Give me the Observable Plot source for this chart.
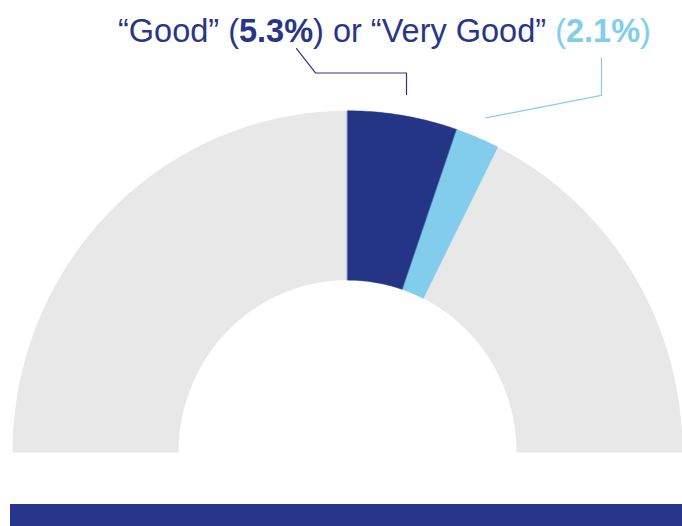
<!DOCTYPE html>
<html>
<head>
<meta charset="utf-8">
<script src="https://cdn.jsdelivr.net/npm/d3@7"></script>
<script src="https://cdn.jsdelivr.net/npm/@observablehq/plot@0.6"></script>
<style>
  html, body { margin: 0; padding: 0; background: #fff; }
  #wrap { position: relative; width: 682px; height: 526px; overflow: hidden; }
  #title { position: absolute; left: 118px; top: 13px;
           font-family: "Liberation Sans", Arial, Helvetica, sans-serif; font-size: 32.5px; line-height: 36px; color: #283689; white-space: nowrap; }
  #title b { font-weight: bold; }
  #bar { position: absolute; left: 10px; right: 0; top: 504px; height: 22px; background: #27358a; }
  svg { display: block; }
</style>
</head>
<body>
<div id="wrap">
  <div id="chart"></div>
  <div id="title"></div>
  <div id="bar"></div>
</div>
<script>
// ---- data ----
const categories = ["Good", "Very Good"];
const shares = [5.3, 2.1];              // percent of respondents
const segColors = ["#233584", "#82cdec"];
const labelColors = ["#283689", "#82cdec"];
const gaugeRange = [-90, 90];           // background half-ring, degrees
const gaugeColor = "#e8e8e8";

// label anchors (where leader lines meet the title text), in chart units
const labelAnchors = [[-51, 396], [254, 387]];

// ---- geometry helpers ----
const R_OUT = 335, R_IN = 169, R_LEAD = 356;
const rad = d => d * Math.PI / 180;
function ring(a0, a1, key) {
  const n = Math.max(8, Math.ceil(Math.abs(a1 - a0) * 2));
  const pts = [];
  for (let i = 0; i <= n; i++) { const a = a0 + (a1 - a0) * i / n; pts.push({key, x: R_OUT * Math.sin(rad(a)), y: R_OUT * Math.cos(rad(a))}); }
  for (let i = n; i >= 0; i--) { const a = a0 + (a1 - a0) * i / n; pts.push({key, x: R_IN * Math.sin(rad(a)), y: R_IN * Math.cos(rad(a))}); }
  return pts;
}

// segments: shares of a full circle, clockwise from 12 o'clock
let acc = 0;
const segments = categories.map((c, i) => {
  const a0 = acc * 3.6, a1 = (acc + shares[i]) * 3.6;
  acc += shares[i];
  return {category: c, a0, a1, mid: (a0 + a1) / 2, color: segColors[i]};
});

// leader lines
const leaders = segments.map((s, i) => {
  const ex = R_LEAD * Math.sin(rad(s.mid)), ey = R_LEAD * Math.cos(rad(s.mid));
  const [lx, ly] = labelAnchors[i];
  if (i === 0) {
    const ky = ey + 21;
    return [{x: ex, y: ey}, {x: ex, y: ky}, {x: lx + 19, y: ky}, {x: lx, y: ly}];
  } else {
    return [{x: ex, y: ey}, {x: lx, y: ey + 22}, {x: lx, y: ly}];
  }
});

const marks = [
  Plot.line(ring(gaugeRange[0], gaugeRange[1], "bg"), {x: "x", y: "y", fill: gaugeColor, stroke: "none", curve: "linear-closed"}),
  ...segments.map(s => Plot.line(ring(s.a0, s.a1, s.category), {x: "x", y: "y", fill: s.color, stroke: s.color, strokeWidth: 0.5, curve: "linear-closed"})),
  ...leaders.map((l, i) => Plot.line(l, {x: "x", y: "y", stroke: labelColors[i], strokeWidth: 1.2, fill: "none"}))
];

const YS = 1.02; // slight vertical stretch seen in the reference
const chart = Plot.plot({
  width: 682, height: 526,
  margin: 0,
  x: {domain: [-347, 335], axis: null},
  y: {domain: [-74 / YS, 452 / YS], axis: null},
  marks
});
document.getElementById("chart").appendChild(chart);

// title built from data
const t = document.getElementById("title");
t.innerHTML = `\u201C${categories[0]}\u201D (<b>${shares[0]}%</b>) or \u201C${categories[1]}\u201D <span style="color:${labelColors[1]}">(<b>${shares[1]}%</b>)</span>`;
</script>
</body>
</html>
